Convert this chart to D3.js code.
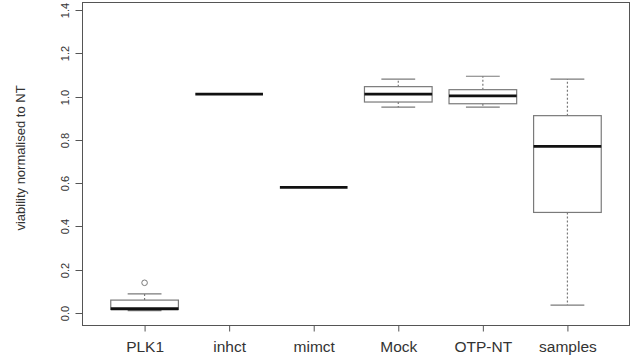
<!DOCTYPE html>
<html lang="en">
<head>
    <meta charset="UTF-8">
    <title>Viability boxplot</title>
    <script src="https://d3js.org/d3.v7.min.js"></script>
    <style>
        body {
            margin: 0;
            padding: 0;
            background: #fff;
            font-family: "Liberation Sans", Arial, sans-serif;
        }
        .frame { fill: none; stroke: #555; stroke-width: 1px; }
        .tick line { stroke: #555; }
        .box { fill: #fff; stroke: #7a7a7a; stroke-width: 1.2px; }
        .median { stroke: #111; stroke-width: 2.8px; }
        .whisker { stroke: #7a7a7a; stroke-width: 1.2px; stroke-dasharray: 2,2; }
        .staple { stroke: #7a7a7a; stroke-width: 1.2px; }
        .outlier { fill: none; stroke: #7a7a7a; stroke-width: 1px; }
        text { fill: #333; }
    </style>
</head>
<body>
    <div id="chart"></div>

    <script>
        // values
        const categories = ["PLK1", "inhct", "mimct", "Mock", "OTP-NT", "samples"];
        const whiskerLo = [0.011, 1.011, 0.581, 0.951, 0.951, 0.037];
        const q1        = [0.017, 1.011, 0.581, 0.975, 0.967, 0.465];
        const medians   = [0.020, 1.011, 0.581, 1.011, 1.003, 0.770];
        const q3        = [0.060, 1.011, 0.581, 1.046, 1.032, 0.912];
        const whiskerHi = [0.089, 1.011, 0.581, 1.081, 1.094, 1.081];
        const outliers  = [[0.140], [], [], [], [], []];
        const yTicks = [0, 0.2, 0.4, 0.6, 0.8, 1.0, 1.2, 1.4];

        const width = 631, height = 364;
        const plotLeft = 82, plotRight = 630, plotTop = 2, plotBottom = 325;

        const svg = d3.select("#chart").append("svg")
            .attr("width", width)
            .attr("height", height);

        const x = d3.scaleLinear().domain([0.26, 6.74]).range([plotLeft, plotRight]);
        const y = d3.scaleLinear().domain([-0.055, 1.437]).range([plotBottom, plotTop]);
        const halfBox = x(1.4) - x(1);
        const halfStaple = halfBox / 2;

        svg.append("rect").attr("class", "frame")
            .attr("x", plotLeft + 0.5).attr("y", plotTop + 0.5)
            .attr("width", plotRight - plotLeft - 1).attr("height", plotBottom - plotTop);

        // y axis
        const yAxis = svg.append("g")
            .attr("transform", `translate(${plotLeft + 0.5},0)`)
            .call(d3.axisLeft(y).tickValues(yTicks).tickSize(7).tickFormat(d3.format(".1f")));
        yAxis.select(".domain").remove();
        yAxis.selectAll(".tick").attr("transform", d => `translate(0,${Math.round(y(d)) + 0.5})`);
        yAxis.selectAll("text")
            .attr("transform", "translate(-17,0) rotate(-90)")
            .attr("x", 0).attr("dy", "0.35em")
            .style("text-anchor", "middle")
            .style("font-size", "11px")
            .style("font-family", "Liberation Sans, Arial, sans-serif")
            .style("fill", "#333");

        // x axis
        const xAxis = svg.append("g")
            .attr("transform", `translate(0,${plotBottom + 0.5})`)
            .call(d3.axisBottom(x).tickValues(d3.range(1, categories.length + 1))
                .tickSize(6).tickFormat(d => categories[d - 1]));
        xAxis.select(".domain").remove();
        xAxis.selectAll("text")
            .attr("y", 15).attr("dy", "0.71em")
            .style("font-size", "15.5px")
            .style("font-family", "Liberation Sans, Arial, sans-serif")
            .style("fill", "#333");

        svg.append("text")
            .attr("transform", "translate(20,158) rotate(-90)")
            .attr("text-anchor", "middle")
            .attr("dy", "0.35em")
            .style("font-size", "13px")
            .text("viability normalised to NT");

        const stats = categories.map((c, i) => ({
            i: i + 1, lo: whiskerLo[i], q1: q1[i], med: medians[i],
            q3: q3[i], hi: whiskerHi[i], out: outliers[i]
        }));

        const g = svg.selectAll(".bp").data(stats).enter().append("g");

        g.append("line").attr("class", "whisker")
            .attr("x1", d => x(d.i)).attr("x2", d => x(d.i))
            .attr("y1", d => y(d.q3)).attr("y2", d => y(d.hi));
        g.append("line").attr("class", "whisker")
            .attr("x1", d => x(d.i)).attr("x2", d => x(d.i))
            .attr("y1", d => y(d.q1)).attr("y2", d => y(d.lo));
        g.filter(d => d.hi > d.q3).append("line").attr("class", "staple")
            .attr("x1", d => x(d.i) - halfStaple).attr("x2", d => x(d.i) + halfStaple)
            .attr("y1", d => y(d.hi)).attr("y2", d => y(d.hi));
        g.filter(d => d.lo < d.q1).append("line").attr("class", "staple")
            .attr("x1", d => x(d.i) - halfStaple).attr("x2", d => x(d.i) + halfStaple)
            .attr("y1", d => y(d.lo)).attr("y2", d => y(d.lo));
        g.append("rect").attr("class", "box")
            .attr("x", d => x(d.i) - halfBox).attr("width", 2 * halfBox)
            .attr("y", d => y(d.q3)).attr("height", d => y(d.q1) - y(d.q3));
        g.append("line").attr("class", "median")
            .attr("x1", d => x(d.i) - halfBox).attr("x2", d => x(d.i) + halfBox)
            .attr("y1", d => y(d.med)).attr("y2", d => y(d.med));
        g.selectAll(".outlier").data(d => d.out.map(v => ({ i: d.i, v })))
            .enter().append("circle").attr("class", "outlier")
            .attr("cx", d => x(d.i)).attr("cy", d => y(d.v)).attr("r", 2.8);
    </script>
</body>
</html>
